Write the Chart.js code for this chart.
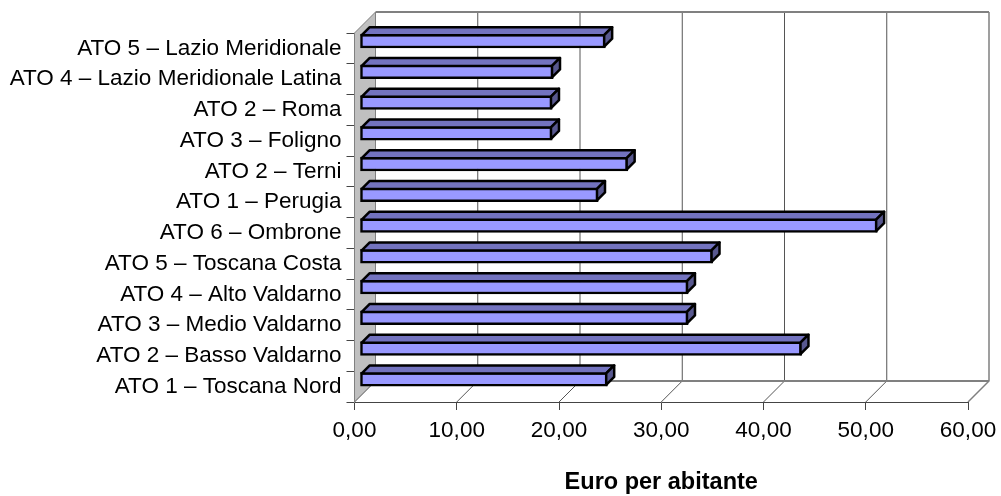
<!DOCTYPE html>
<html>
<head>
<meta charset="utf-8">
<script src="https://cdn.jsdelivr.net/npm/chart.js@4"></script>
<style>
html, body { margin: 0; padding: 0; background: #fff; }
canvas { display: block; }
</style>
</head>
<body>
<canvas id="myChart" width="1001" height="496"></canvas>
<script>
const categories = [
    'ATO 5 – Lazio Meridionale',
    'ATO 4 – Lazio Meridionale Latina',
    'ATO 2 – Roma',
    'ATO 3 – Foligno',
    'ATO 2 – Terni',
    'ATO 1 – Perugia',
    'ATO 6 – Ombrone',
    'ATO 5 – Toscana Costa',
    'ATO 4 – Alto Valdarno',
    'ATO 3 – Medio Valdarno',
    'ATO 2 – Basso Valdarno',
    'ATO 1 – Toscana Nord'
];
const euroPerAbitante = [24.0, 18.9, 18.8, 18.8, 26.2, 23.3, 50.6, 34.5, 32.1, 32.1, 43.2, 24.2];
const axisTitle = 'Euro per abitante';

// fake 3D depth of the Excel chart
const WALL_DEPTH = 21;
const BAR_DX = 5.5;
const BAR_DY = -7.4;
const CAP_DEPTH = 8;
const BAR_BORDER = 2.5;

const wall3d = {
    id: 'wall3d',
    beforeDraw(chart) {
        const ctx = chart.ctx, a = chart.chartArea, x = chart.scales.x;
        ctx.save();
        // left wall
        ctx.fillStyle = '#c0c0c0';
        ctx.strokeStyle = '#808080';
        ctx.lineWidth = 1;
        ctx.beginPath();
        ctx.moveTo(a.left, a.top);
        ctx.lineTo(a.left + WALL_DEPTH, a.top - WALL_DEPTH);
        ctx.lineTo(a.left + WALL_DEPTH, a.bottom - WALL_DEPTH);
        ctx.lineTo(a.left, a.bottom);
        ctx.closePath();
        ctx.fill();
        ctx.stroke();
        // gridlines on back wall and floor
        x.ticks.forEach((t, i) => {
            const px = x.getPixelForValue(t.value);
            const last = i == x.ticks.length - 1;
            ctx.strokeStyle = (i == 0 || last) ? '#808080' : '#555555';
            ctx.lineWidth = last ? 1.5 : 1;
            ctx.beginPath();
            ctx.moveTo(px + WALL_DEPTH, a.top - WALL_DEPTH);
            ctx.lineTo(px + WALL_DEPTH, a.bottom - WALL_DEPTH);
            ctx.lineTo(px, a.bottom);
            ctx.stroke();
        });
        // top and floor edges of back wall
        ctx.strokeStyle = '#808080';
        ctx.lineWidth = 2;
        ctx.beginPath();
        ctx.moveTo(a.left + WALL_DEPTH, a.top - WALL_DEPTH);
        ctx.lineTo(a.right + WALL_DEPTH, a.top - WALL_DEPTH);
        ctx.moveTo(a.left + WALL_DEPTH, a.bottom - WALL_DEPTH);
        ctx.lineTo(a.right + WALL_DEPTH, a.bottom - WALL_DEPTH);
        ctx.stroke();
        ctx.restore();
    },
    beforeDatasetsDraw(chart) {
        chart.ctx.save();
        chart.ctx.translate(BAR_DX, BAR_DY);
    },
    afterDatasetsDraw(chart) {
        const ctx = chart.ctx;
        const inset = BAR_BORDER / 2;
        ctx.lineWidth = BAR_BORDER;
        ctx.strokeStyle = '#000000';
        ctx.lineJoin = 'round';
        chart.getDatasetMeta(0).data.forEach((bar) => {
            const top = bar.y - bar.height / 2 + inset;
            const bottom = bar.y + bar.height / 2 - inset;
            const left = bar.base + inset;
            const right = bar.x - inset;
            // top cap
            ctx.fillStyle = '#7373bf';
            ctx.beginPath();
            ctx.moveTo(left, top);
            ctx.lineTo(left + CAP_DEPTH, top - CAP_DEPTH);
            ctx.lineTo(right + CAP_DEPTH, top - CAP_DEPTH);
            ctx.lineTo(right, top);
            ctx.closePath();
            ctx.fill();
            ctx.stroke();
            // right side
            ctx.fillStyle = '#58588f';
            ctx.beginPath();
            ctx.moveTo(right, top);
            ctx.lineTo(right + CAP_DEPTH, top - CAP_DEPTH);
            ctx.lineTo(right + CAP_DEPTH, bottom - CAP_DEPTH);
            ctx.lineTo(right, bottom);
            ctx.closePath();
            ctx.fill();
            ctx.stroke();
        });
        ctx.restore();
    }
};

const labelFont = { family: '"Liberation Sans", Arial, sans-serif', size: 22.5 };

new Chart(document.getElementById('myChart'), {
    type: 'bar',
    plugins: [wall3d],
    data: {
        labels: categories,
        datasets: [{
            data: euroPerAbitante,
            backgroundColor: '#9999ff',
            borderColor: '#000000',
            borderWidth: BAR_BORDER,
            borderSkipped: false,
            barThickness: 14,
            clip: false
        }]
    },
    options: {
        indexAxis: 'y',
        responsive: false,
        animation: false,
        layout: { padding: { top: 33, right: 33, left: 0, bottom: 0 } },
        plugins: {
            legend: { display: false },
            tooltip: { enabled: false }
        },
        scales: {
            x: {
                min: 0,
                max: 60,
                afterFit(scale) {
                    scale.height = 94;
                    // last tick label may stick out past the plot
                    scale.paddingRight = 0;
                    scale.paddingLeft = 0;
                },
                ticks: {
                    stepSize: 10,
                    color: '#000000',
                    font: labelFont,
                    maxRotation: 0,
                    autoSkip: false,
                    padding: 7,
                    callback: (v) => v.toFixed(2).replace('.', ',')
                },
                grid: { drawOnChartArea: false, tickLength: 8, color: '#444444' },
                border: { color: '#444444' },
                title: {
                    display: true,
                    text: axisTitle,
                    color: '#000000',
                    font: { family: labelFont.family, size: 23.5, weight: 'bold' },
                    padding: { top: 20, bottom: -1 }
                }
            },
            y: {
                afterFit(scale) { scale.width = 354.5; },
                ticks: { color: '#000000', font: labelFont, autoSkip: false, padding: 5 },
                grid: { drawOnChartArea: false, offset: true, tickLength: 8, color: '#444444' },
                border: { color: '#808080' }
            }
        }
    }
});
</script>
</body>
</html>
